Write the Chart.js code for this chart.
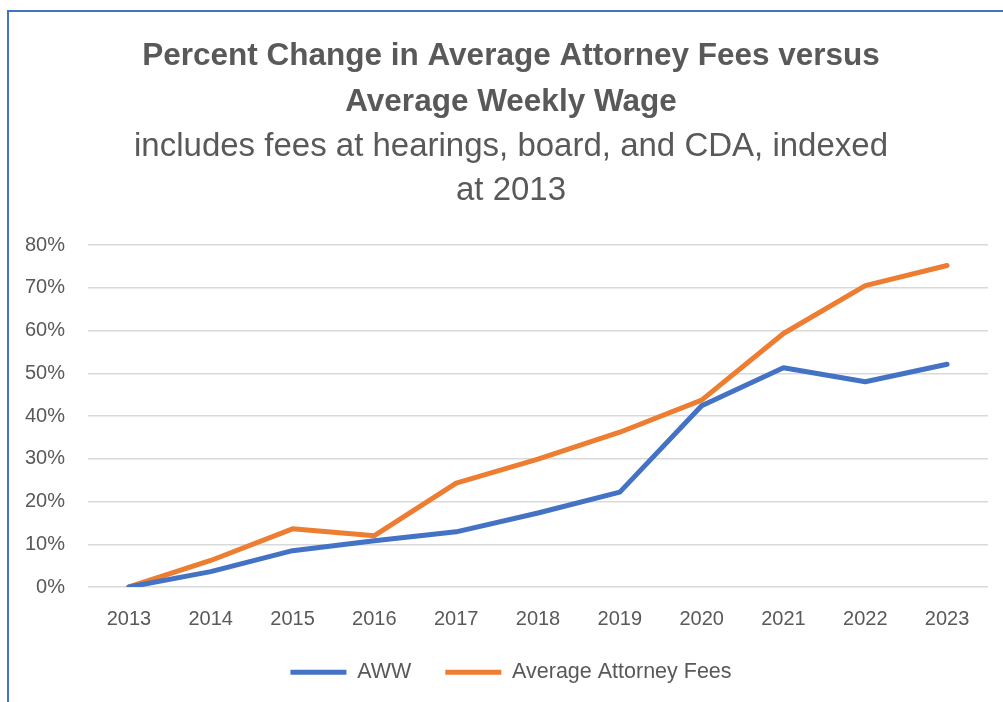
<!DOCTYPE html>
<html>
<head>
<meta charset="utf-8">
<script src="https://cdn.jsdelivr.net/npm/chart.js@4"></script>
<style>
  html, body { margin: 0; padding: 0; background: #fff; }
  body { width: 1003px; height: 702px; position: relative; overflow: hidden; }
  .frame { position: absolute; left: 7px; top: 10px; right: -5px; bottom: -5px;
           border-left: 2px solid #4472C4; border-top: 2px solid #4472C4; }
  .wrap { position: absolute; left: 9px; top: 12px; width: 994px; height: 690px; }
</style>
</head>
<body>
<div class="frame"></div>
<div class="wrap"><canvas id="feesChart"></canvas></div>
<script>
// Dữ liệu
const years = ['2013', '2014', '2015', '2016', '2017', '2018', '2019', '2020', '2021', '2022', '2023'];
const awwValues = [0, 3.6, 8.5, 10.8, 12.9, 17.3, 22.2, 42.4, 51.3, 48.0, 52.1];
const feeValues = [0, 6.2, 13.6, 12.0, 24.3, 29.9, 36.2, 43.7, 59.3, 70.5, 75.2];
const seriesNames = ['AWW', 'Average Attorney Fees'];
const titleLines = ['Percent Change in Average Attorney Fees versus', 'Average Weekly Wage'];
const subtitleLines = ['includes fees at hearings, board, and CDA, indexed', 'at 2013'];

const FONT = "'Liberation Sans', Arial, sans-serif";
const GREY = '#595959';

// nhãn trục Y nằm lệch ra ngoài vùng trục, bỏ vùng cắt bên trái
const unclipY = {
    id: 'unclipY',
    afterLayout(chart) {
        chart.scales.y.left = 0;
    }
};

const ctx = document.getElementById('feesChart').getContext('2d');

new Chart(ctx, {
    type: 'line',
    data: {
        labels: years,
        datasets: [{
            label: seriesNames[0],
            data: awwValues,
            borderColor: '#4472C4',
            backgroundColor: '#4472C4',
            borderWidth: 5,
            borderCapStyle: 'round',
            borderJoinStyle: 'round',
            pointRadius: 0,
            tension: 0
        }, {
            label: seriesNames[1],
            data: feeValues,
            borderColor: '#ED7D31',
            backgroundColor: '#ED7D31',
            borderWidth: 5,
            borderCapStyle: 'round',
            borderJoinStyle: 'round',
            pointRadius: 0,
            tension: 0
        }]
    },
    options: {
        responsive: true,
        maintainAspectRatio: false,
        animation: false,
        layout: { padding: { left: 25, right: 15, top: 0, bottom: 9 } },
        plugins: {
            title: {
                display: true,
                text: titleLines,
                color: GREY,
                font: { family: FONT, size: 31.5, weight: 'bold', lineHeight: 46 / 31.5 },
                padding: { top: 21, bottom: 0 }
            },
            subtitle: {
                display: true,
                text: subtitleLines,
                color: GREY,
                font: { family: FONT, size: 33, weight: 'normal', lineHeight: 44 / 33 },
                padding: { top: 0, bottom: 32 }
            },
            legend: {
                position: 'bottom',
                labels: {
                    color: GREY,
                    font: { family: FONT, size: 21.5 },
                    usePointStyle: true,
                    pointStyle: 'line',
                    pointStyleWidth: 56,
                    padding: 34
                }
            },
            tooltip: { enabled: false }
        },
        scales: {
            x: {
                offset: true,
                grid: { display: false },
                border: { display: false },
                ticks: { color: GREY, font: { family: FONT, size: 20 }, padding: 12, maxRotation: 0 },
                afterFit: (scale) => { scale.height = 40.5; }
            },
            y: {
                min: 0,
                max: 80,
                grid: { color: '#D9D9D9', lineWidth: 1.5, drawTicks: false },
                border: { display: false },
                ticks: {
                    stepSize: 10,
                    color: GREY,
                    font: { family: FONT, size: 20 },
                    padding: 23,
                    callback: (v) => v + '%'
                },
                afterFit: (scale) => { scale.width = 54; }
            }
        }
    },
    plugins: [unclipY]
});
</script>
</body>
</html>
